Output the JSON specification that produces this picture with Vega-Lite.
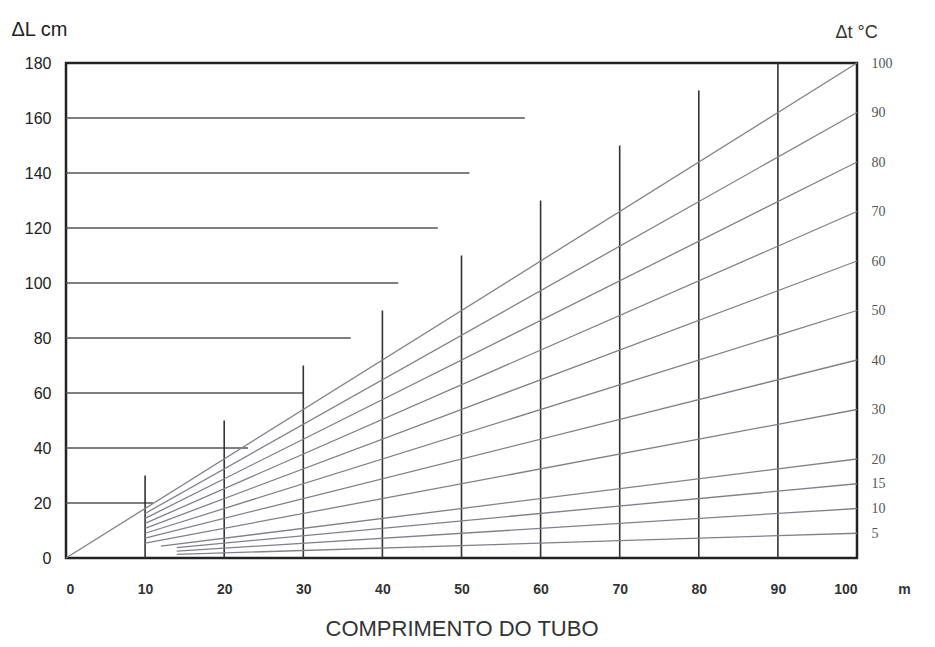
{
  "$schema": "https://vega.github.io/schema/vega-lite/v6.json",
  "width": 791,
  "height": 495,
  "autosize": "none",
  "padding": {"left": 66, "top": 63, "right": 78, "bottom": 89},
  "background": "#ffffff",
  "config": {
    "view": {"stroke": "#222222", "strokeWidth": 2.5},
    "axis": {"grid": false, "ticks": false, "domain": false}
  },
  "datasets": {
    "diag": [
      {"t": 100, "x": 0, "dl": 0}, {"t": 100, "x": 100, "dl": 180},
      {"t": 90, "x": 10, "dl": 16.2}, {"t": 90, "x": 100, "dl": 162},
      {"t": 80, "x": 10, "dl": 14.4}, {"t": 80, "x": 100, "dl": 144},
      {"t": 70, "x": 10, "dl": 12.6}, {"t": 70, "x": 100, "dl": 126},
      {"t": 60, "x": 10, "dl": 10.8}, {"t": 60, "x": 100, "dl": 108},
      {"t": 50, "x": 10, "dl": 9}, {"t": 50, "x": 100, "dl": 90},
      {"t": 40, "x": 10, "dl": 7.2}, {"t": 40, "x": 100, "dl": 72},
      {"t": 30, "x": 10, "dl": 5.4}, {"t": 30, "x": 100, "dl": 54},
      {"t": 20, "x": 12, "dl": 4.3}, {"t": 20, "x": 100, "dl": 36},
      {"t": 15, "x": 14, "dl": 3.8}, {"t": 15, "x": 100, "dl": 27},
      {"t": 10, "x": 14, "dl": 2.5}, {"t": 10, "x": 100, "dl": 18},
      {"t": 5, "x": 14, "dl": 1.3}, {"t": 5, "x": 100, "dl": 9}
    ],
    "verticals": [
      {"x": 10, "bottom": 0, "top": 30}, {"x": 20, "bottom": 0, "top": 50}, {"x": 30, "bottom": 0, "top": 70},
      {"x": 40, "bottom": 0, "top": 90}, {"x": 50, "bottom": 0, "top": 110}, {"x": 60, "bottom": 0, "top": 130},
      {"x": 70, "bottom": 0, "top": 150}, {"x": 80, "bottom": 0, "top": 170}, {"x": 90, "bottom": 0, "top": 180}
    ],
    "horizontals": [
      {"y": 20, "xstart": 0, "xend": 11}, {"y": 40, "xstart": 0, "xend": 23}, {"y": 60, "xstart": 0, "xend": 30},
      {"y": 80, "xstart": 0, "xend": 36}, {"y": 100, "xstart": 0, "xend": 42}, {"y": 120, "xstart": 0, "xend": 47},
      {"y": 140, "xstart": 0, "xend": 51}, {"y": 160, "xstart": 0, "xend": 58}
    ],
    "rightTicks": [
      {"x": 100, "dt": 5}, {"x": 100, "dt": 10}, {"x": 100, "dt": 15}, {"x": 100, "dt": 20},
      {"x": 100, "dt": 30}, {"x": 100, "dt": 40}, {"x": 100, "dt": 50}, {"x": 100, "dt": 60},
      {"x": 100, "dt": 70}, {"x": 100, "dt": 80}, {"x": 100, "dt": 90}, {"x": 100, "dt": 100}
    ],
    "unit": [{"x": 106, "y": -11.5, "label": "m"}]
  },
  "layer": [
    {
      "layer": [
        {
          "data": {"name": "horizontals"},
          "mark": {"type": "rule", "color": "#555555", "strokeWidth": 1.6},
          "encoding": {
            "x": {
              "field": "xstart", "type": "quantitative",
              "scale": {"domain": [0, 100], "nice": false},
              "axis": {
                "values": [0, 10, 20, 30, 40, 50, 60, 70, 80, 90, 100],
                "labelFont": "Liberation Sans",
                "labelFontSize": 14,
                "labelFontWeight": "bold",
                "labelColor": "#333333",
                "labelPadding": 24,
                "title": "COMPRIMENTO DO TUBO",
                "titleFont": "Liberation Sans",
                "titleFontSize": 22,
                "titleFontWeight": "normal",
                "titleColor": "#333333",
                "titlePadding": 22
              }
            },
            "x2": {"field": "xend"},
            "y": {
              "field": "y", "type": "quantitative",
              "scale": {"domain": [0, 180], "nice": false, "zero": true},
              "axis": {
                "orient": "left",
                "values": [0, 20, 40, 60, 80, 100, 120, 140, 160, 180],
                "labelFont": "Liberation Sans",
                "labelFontSize": 16,
                "labelColor": "#222222",
                "labelPadding": 15,
                "title": "ΔL  cm",
                "titleAngle": 0,
                "titleFont": "Liberation Sans",
                "titleFontSize": 20,
                "titleFontWeight": "normal",
                "titleColor": "#222222",
                "titleAlign": "left",
                "titleBaseline": "middle",
                "titleX": -55,
                "titleY": -34
              }
            }
          }
        },
        {
          "data": {"name": "verticals"},
          "mark": {"type": "rule", "color": "#333333", "strokeWidth": 1.6},
          "encoding": {
            "x": {"field": "x", "type": "quantitative"},
            "y": {"field": "bottom", "type": "quantitative"},
            "y2": {"field": "top"}
          }
        },
        {
          "data": {"name": "diag"},
          "mark": {"type": "line", "color": "#80808c", "strokeWidth": 1.3},
          "encoding": {
            "x": {"field": "x", "type": "quantitative"},
            "y": {"field": "dl", "type": "quantitative"},
            "detail": {"field": "t", "type": "nominal"}
          }
        },
        {
          "data": {"name": "unit"},
          "mark": {"type": "text", "font": "Liberation Sans", "fontSize": 14, "fontWeight": "bold", "color": "#333333", "baseline": "middle"},
          "encoding": {
            "x": {"field": "x", "type": "quantitative"},
            "y": {"field": "y", "type": "quantitative"},
            "text": {"field": "label", "type": "nominal"}
          }
        }
      ]
    },
    {
      "data": {"name": "rightTicks"},
      "mark": {"type": "point", "opacity": 0},
      "encoding": {
        "x": {"field": "x", "type": "quantitative"},
        "y": {
          "field": "dt", "type": "quantitative",
          "scale": {"domain": [0, 100], "nice": false},
          "axis": {
            "orient": "right",
            "values": [5, 10, 15, 20, 30, 40, 50, 60, 70, 80, 90, 100],
            "labelFont": "Liberation Serif",
            "labelFontSize": 14,
            "labelColor": "#555555",
            "labelPadding": 14,
            "title": "Δt °C",
            "titleAngle": 0,
            "titleFont": "Liberation Sans",
            "titleFontSize": 18,
            "titleFontWeight": "normal",
            "titleColor": "#333333",
            "titleAlign": "left",
            "titleBaseline": "middle",
            "titleX": -22,
            "titleY": -31
          }
        }
      }
    }
  ],
  "resolve": {"scale": {"y": "independent"}}
}
